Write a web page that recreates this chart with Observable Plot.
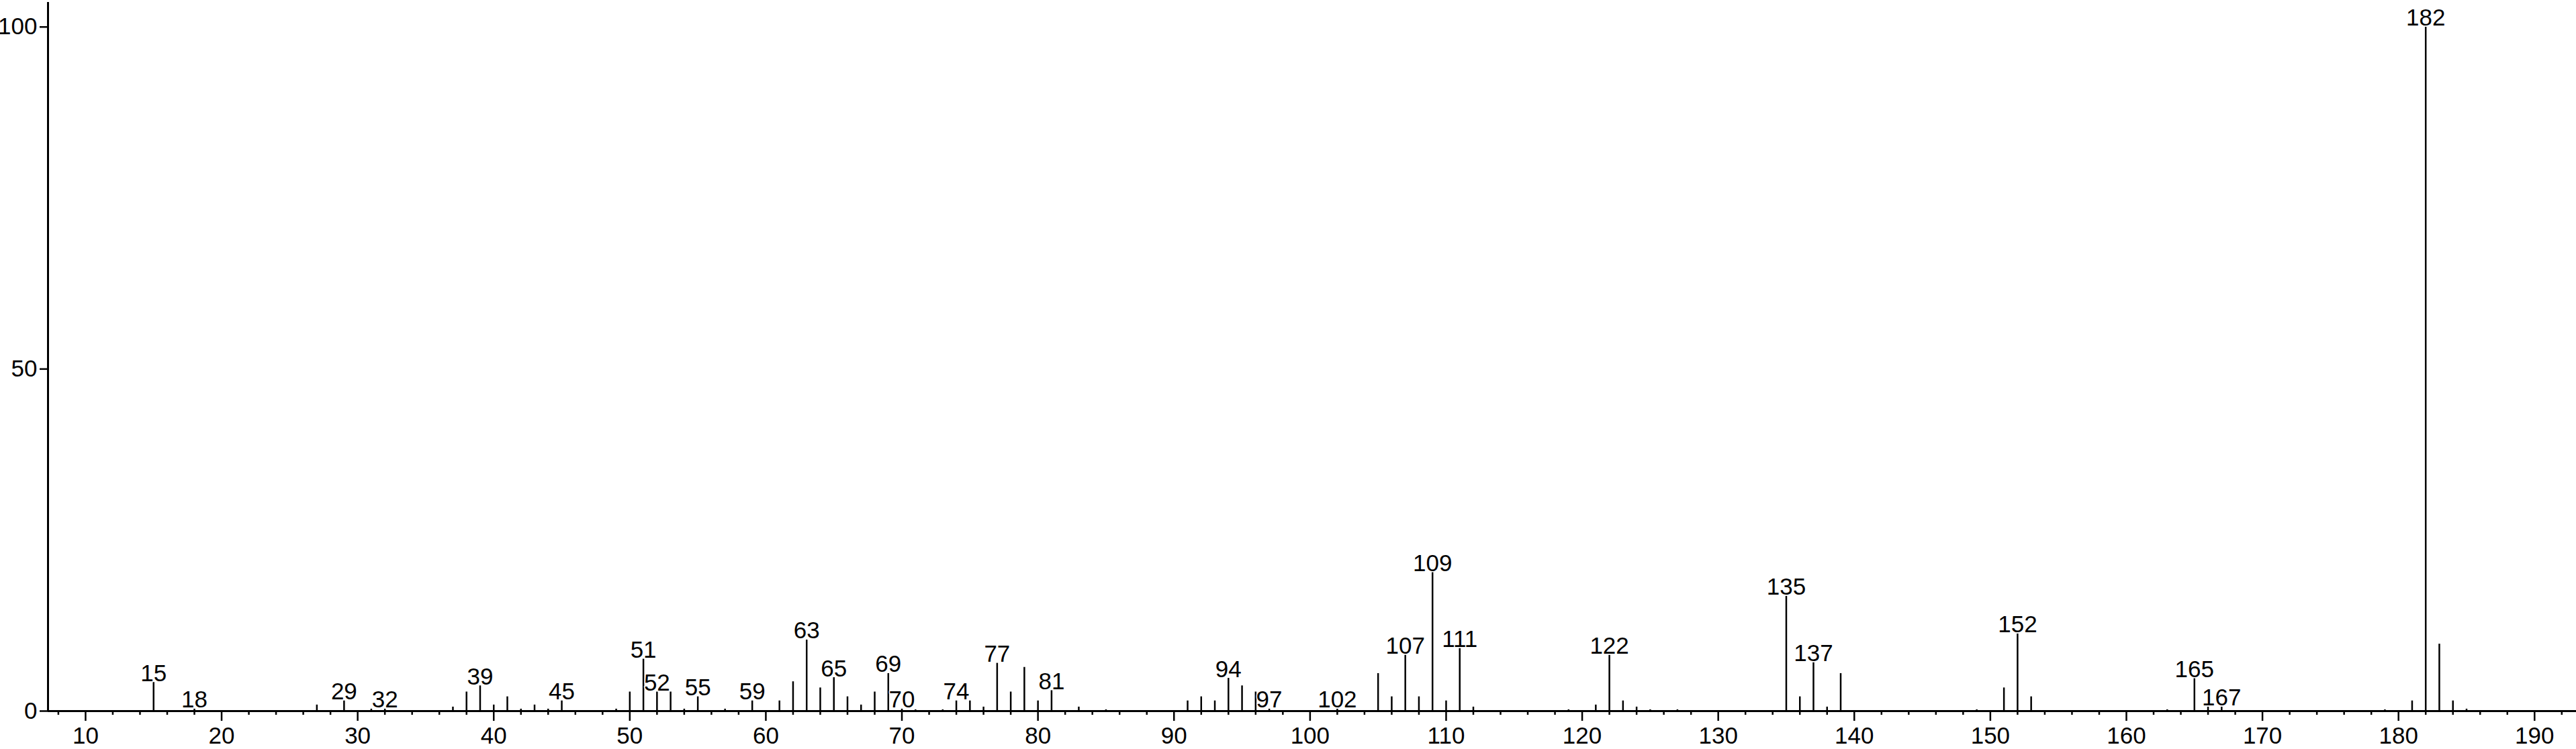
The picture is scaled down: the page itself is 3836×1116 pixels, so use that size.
<!DOCTYPE html>
<html>
<head>
<meta charset="utf-8">
<script src="https://cdn.jsdelivr.net/npm/d3@7"></script>
<script src="https://cdn.jsdelivr.net/npm/@observablehq/plot@0.6"></script>
<style>
  html, body { margin: 0; padding: 0; background: #fff; }
  #chart svg { display: block; }
</style>
</head>
<body>
<div id="chart"></div>
<script>
// m/z values and relative intensities (%)
const masses = [15, 18, 27, 29, 31, 32, 37, 38, 39, 40, 41, 42, 43, 44, 45, 49, 50, 51, 52, 53, 54, 55, 57, 59,
  61, 62, 63, 64, 65, 66, 67, 68, 69, 70, 71, 73, 74, 75, 76, 77, 78, 79, 80, 81, 83, 85,
  91, 92, 93, 94, 95, 96, 97, 102, 105, 106, 107, 108, 109, 110, 111, 112, 119, 121, 122, 123, 124, 125, 127,
  135, 136, 137, 138, 139, 149, 151, 152, 153, 163, 165, 166, 167, 179, 181, 182, 183, 184, 185];
const intensities = [4.2, 0.3, 0.9, 1.5, 0.3, 0.3, 0.6, 2.8, 3.7, 0.9, 2.1, 0.3, 0.9, 0.3, 1.5, 0.3, 2.8, 7.6, 2.8, 2.8, 0.3, 2.1, 0.3, 1.5,
  1.5, 4.3, 10.4, 3.4, 4.9, 2.1, 0.9, 2.8, 5.5, 0.3, 0.2, 0.2, 1.5, 1.5, 0.6, 7.0, 2.8, 6.4, 1.5, 3.0, 0.6, 0.2,
  1.5, 2.1, 1.5, 4.8, 3.7, 2.8, 0.3, 0.3, 5.5, 2.1, 8.2, 2.1, 20.3, 1.5, 9.2, 0.6, 0.2, 0.9, 8.2, 1.5, 0.6, 0.2, 0.2,
  16.8, 2.1, 7.1, 0.6, 5.5, 0.2, 3.4, 11.3, 2.1, 0.2, 4.8, 0.6, 0.6, 0.2, 1.5, 100, 9.8, 1.5, 0.3];
// peaks carrying an m/z label
const labeledMasses = [15, 18, 29, 32, 39, 45, 51, 52, 55, 59, 63, 65, 69, 70, 74, 77, 81, 94, 97, 102,
  107, 109, 111, 122, 135, 137, 152, 165, 167, 182];
const xTicks = [10, 20, 30, 40, 50, 60, 70, 80, 90, 100, 110, 120, 130, 140, 150, 160, 170, 180, 190];
const yTicks = [0, 50, 100];

const peaks = masses.map((m, i) => ({m, intensity: intensities[i]}));
const labeled = peaks.filter(d => labeledMasses.includes(d.m));
const xDomain = [7.24, 193.07];
const minorTicks = d3.range(8, 193, 2).filter(d => d % 10 !== 0);

const font = '"Liberation Sans Narrow", "Liberation Sans", Arial, sans-serif';

const chart = Plot.plot({
  width: 3836,
  height: 1116,
  marginLeft: 71,
  marginRight: 0,
  marginTop: 3,
  marginBottom: 57,
  style: {fontFamily: font, fontSize: "35px", background: "#fff", color: "#000"},
  x: {domain: xDomain},
  y: {domain: [0, 103.6]},
  marks: [
    Plot.ruleX(peaks, {x: "m", y1: 0, y2: "intensity", stroke: "#000", strokeWidth: 2.5}),
    Plot.text(labeled, {x: "m", y: "intensity", text: d => String(d.m), lineAnchor: "bottom", dy: -2,
      fill: "#000", fontSize: 35, stroke: "#fff", strokeWidth: 3, paintOrder: "stroke"}),
    Plot.axisX({ticks: minorTicks, tickSize: 6, text: null, label: null, strokeWidth: 2.5}),
    Plot.axisX({ticks: xTicks, tickSize: 15, tickPadding: 9, label: null, strokeWidth: 2.5, fontSize: 35}),
    Plot.axisY({ticks: yTicks, tickSize: 12, tickPadding: 4, label: null, strokeWidth: 2.5, fontSize: 35}),
    Plot.ruleY([0], {stroke: "#000", strokeWidth: 3}),
    Plot.ruleX([xDomain[0]], {stroke: "#000", strokeWidth: 3})
  ]
});
document.getElementById("chart").appendChild(chart);
</script>
</body>
</html>
